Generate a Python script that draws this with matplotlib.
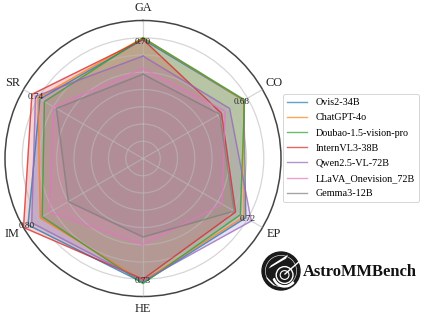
import numpy as np
import matplotlib
matplotlib.use('Agg')
import matplotlib.pyplot as plt
from matplotlib.patches import Circle, Wedge, Polygon

categories = ['GA', 'CO', 'EP', 'HE', 'IM', 'SR']
models = ['Ovis2-34B', 'ChatGPT-4o', 'Doubao-1.5-vision-pro', 'InternVL3-38B',
          'Qwen2.5-VL-72B', 'LLaVA_Onevision_72B', 'Gemma3-12B']
colors = ['#1f77b4', '#ff7f0e', '#2ca02c', '#d62728', '#9467bd', '#e377c2', '#7f7f7f']

ovis = [0.69, 0.675, 0.688, 0.72, 0.77, 0.69]
chatgpt = [0.70, 0.675, 0.677, 0.71, 0.688, 0.703]
doubao = [0.70, 0.68, 0.652, 0.725, 0.675, 0.66]
intern = [0.69, 0.525, 0.62, 0.70, 0.80, 0.744]
qwen = [0.594, 0.58, 0.725, 0.71, 0.745, 0.72]
llava = [0.522, 0.55, 0.53, 0.50, 0.625, 0.60]
gemma = [0.489, 0.513, 0.61, 0.455, 0.50, 0.58]
series = [ovis, chatgpt, doubao, intern, qwen, llava, gemma]

best = [0.70, 0.68, 0.72, 0.73, 0.80, 0.74]

plt.rcParams['font.family'] = ['Liberation Serif', 'DejaVu Serif']

angles = np.linspace(0, 2*np.pi, len(categories), endpoint=False)
closed = np.append(angles, angles[0])

fig = plt.figure(figsize=(4.23, 3.17), dpi=100)
# axes box chosen so the outer circle lands at centre (143,158), radius 138 px
ax = fig.add_axes([5/423, 1-296.5/317, 276/423, 276/317], polar=True)
ax.set_theta_offset(np.pi/2)
ax.set_theta_direction(-1)
ax.set_ylim(0, 0.8)

for vals, name, c in zip(series, models, colors):
    v = np.append(vals, vals[0])
    ax.plot(closed, v, color=c, lw=1, alpha=0.7, label=name, zorder=3)
    ax.fill(closed, v, color=c, alpha=0.2, zorder=2)

ax.set_xticks(angles)
ax.set_xticklabels([])
ax.set_yticks(np.arange(0.1, 0.71, 0.1))
ax.set_yticklabels([])
ax.set_axisbelow(False)
ax.grid(color='#bbbbbb', lw=0.9, alpha=0.6)
ax.spines['polar'].set_color('#444444')
ax.spines['polar'].set_linewidth(1.1)

for a, name in zip(angles, categories):
    ax.text(a, 0.875, name, fontsize=8.8, color='#222222', ha='center', va='center', clip_on=False)

# best score per axis, sits just inside the outermost point
for a, b in zip(angles, best):
    ax.text(a, b - 0.022, '%.2f' % b, fontsize=6.6, color='#222222', ha='center', va='center', zorder=5)

leg = ax.legend(loc='upper left', bbox_to_anchor=(283/423, 1-94/317), bbox_transform=fig.transFigure,
                fontsize=7.3, borderaxespad=0, labelspacing=0.6, handlelength=2.0)
leg.get_frame().set_linewidth(0.7)

# logo
logo = fig.add_axes([261/423, 1-291/317, 40/423, 40/317])
logo.set_xlim(-1, 1)
logo.set_ylim(-1, 1)
logo.set_aspect('equal')
logo.axis('off')
logo.add_patch(Circle((0, 0), 0.95, color='#1a1a1a'))
logo.add_patch(Circle((0, 0), 0.78, fill=False, ec='white', lw=0.4))
logo.add_patch(Circle((0.18, -0.2), 0.42, fill=False, ec='white', lw=1))
logo.add_patch(Circle((0.18, -0.2), 0.22, fill=False, ec='white', lw=0.8))
logo.add_patch(Polygon([[-0.62, 0.12], [-0.5, 0.28], [0.35, 0.82], [0.25, 0.62]], color='white', lw=0))
logo.plot([0.2, 1.0], [-0.15, 0.55], color='white', lw=1)
logo.plot([-0.7, -0.35], [-0.35, -0.7], color='white', lw=0.8)
logo.add_patch(Wedge((0.18, -0.2), 0.6, 200, 320, width=0.06, color='white'))

fig.text(303/423, 1-272/317, 'AstroMMBench', fontsize=11.9, fontweight='bold', color='#111111', va='center')

fig.savefig('out.png', dpi=100)
